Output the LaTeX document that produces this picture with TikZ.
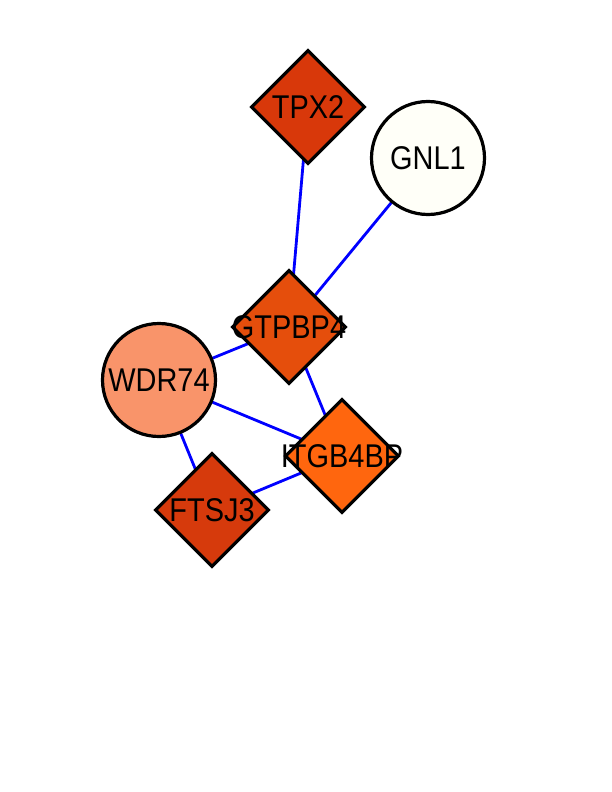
\documentclass[tikz,border=0pt]{standalone}
\usepackage{fontspec}
\setmainfont{Liberation Sans}[FakeStretch=0.88]
\usetikzlibrary{shapes.geometric,backgrounds}
\definecolor{cTPX}{HTML}{D8380A}
\definecolor{cFTS}{HTML}{D63A0C}
\definecolor{cGTP}{HTML}{E54E0C}
\definecolor{cITG}{HTML}{FF660E}
\definecolor{cWDR}{HTML}{F9946A}
\definecolor{cGNL}{HTML}{FFFFF8}
\tikzset{
  gene/.style={draw=black, line width=3.2bp, inner sep=0pt,
    label={[font=\fontsize{33}{33}\selectfont, text=black, inner sep=0pt]center:#1}},
  dia/.style={gene=#1, diamond, aspect=1, minimum width=114bp, minimum height=114bp},
  circ/.style={gene=#1, circle, minimum size=113bp},
  edge/.style={draw=blue, line width=2.8bp}
}
\begin{document}
\begin{tikzpicture}[x=1bp,y=-1bp]
\useasboundingbox (0,0) rectangle (612,792);
\node[dia=TPX2, fill=cTPX] (tpx) at (308,107) {};
\node[circ=GNL1, fill=cGNL] (gnl) at (428,158) {};
\node[dia=GTPBP4, fill=cGTP] (gtp) at (289,327) {};
\node[circ=WDR74, fill=cWDR] (wdr) at (159,380) {};
\node[dia=ITGB4BP, fill=cITG] (itg) at (342,456) {};
\node[dia=FTSJ3, fill=cFTS] (fts) at (212,510) {};
\begin{scope}[on background layer]
\draw[edge] (tpx.center) -- (gtp.center);
\draw[edge] (gnl.center) -- (gtp.center);
\draw[edge] (wdr.center) -- (gtp.center);
\draw[edge] (gtp.center) -- (itg.center);
\draw[edge] (wdr.center) -- (itg.center);
\draw[edge] (wdr.center) -- (fts.center);
\draw[edge] (fts.center) -- (itg.center);
\end{scope}
\end{tikzpicture}
\end{document}
